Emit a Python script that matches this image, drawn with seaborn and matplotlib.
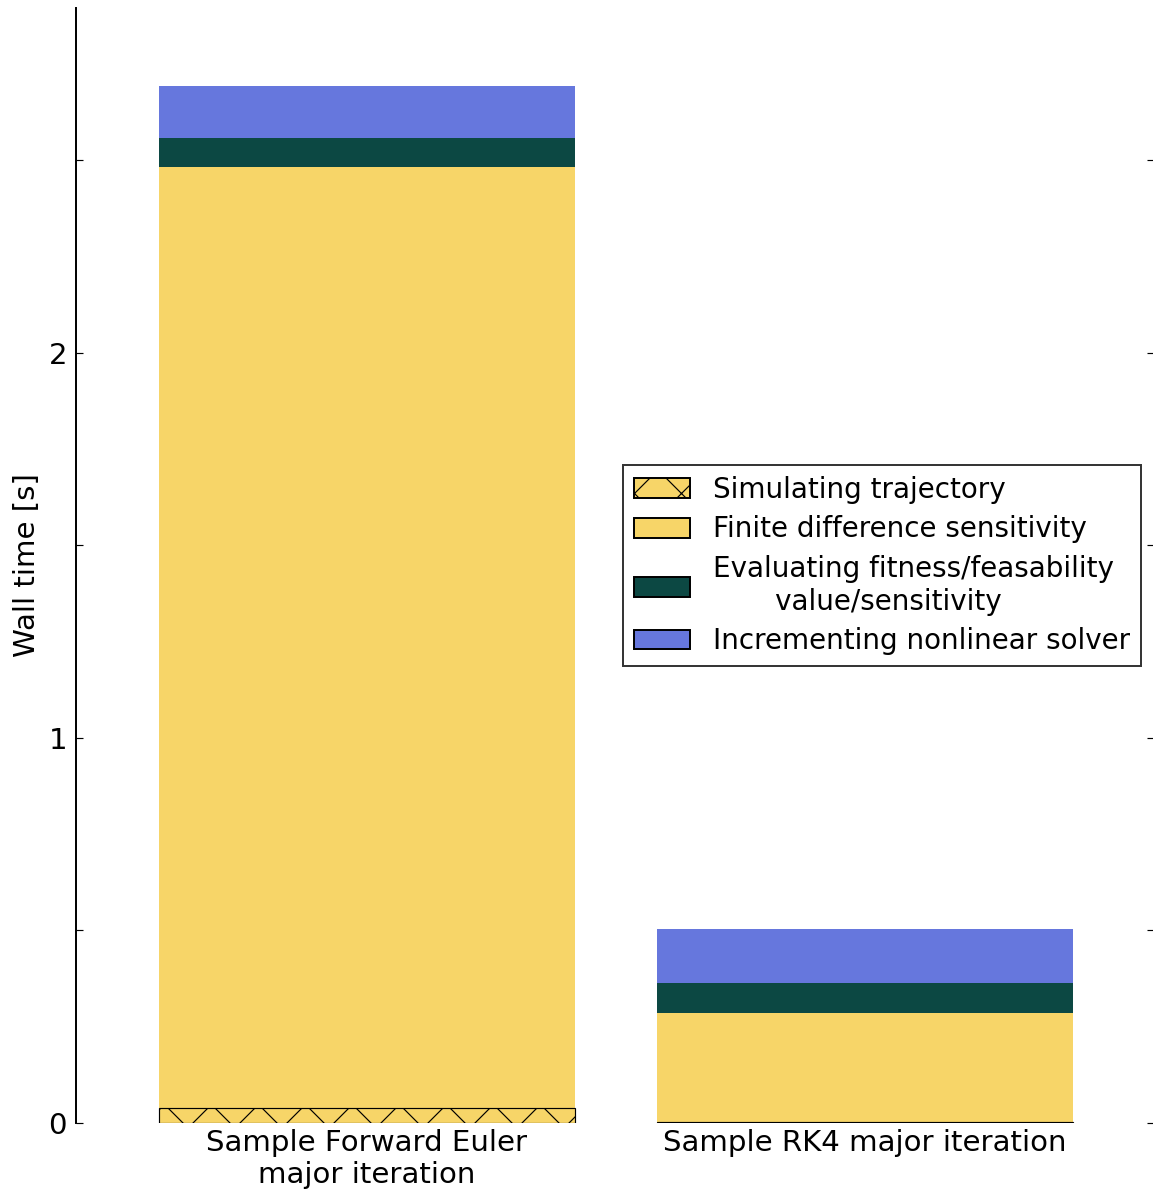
import matplotlib
matplotlib.use("Agg")
import matplotlib.pyplot as plt
from matplotlib.patches import Patch
from matplotlib.ticker import FixedLocator, FixedFormatter
import numpy as np
import pandas as pd
import seaborn as sns

# Wall-time breakdown of one major iteration, per integrator (seconds)
iterations = ["Sample Forward Euler\nmajor iteration", "Sample RK4 major iteration"]
simulating = [0.038, 0.003]
finite_diff = [2.445, 0.283]
evaluating = [0.075, 0.078]
incrementing = [0.135, 0.140]

stage_labels = [
    "Simulating trajectory",
    "Finite difference sensitivity",
    "Evaluating fitness/feasability\n       value/sensitivity",
    "Incrementing nonlinear solver",
]
stage_colors = ["#F7D568", "#F7D568", "#0C4843", "#6677DD"]

ytick_values = [0, 0.5, 1, 1.5, 2, 2.5]
ytick_labels = ["0", "", "1", "", "2", ""]

DPI = 282
sns.set_style("white")
plt.rcParams["font.family"] = ["DejaVu Sans"]
plt.rcParams["hatch.linewidth"] = 0.3
for key in ["text.color", "axes.labelcolor", "xtick.color", "ytick.color"]:
    plt.rcParams[key] = "black"

df = pd.DataFrame({"iteration": iterations,
                   "sim": simulating, "fd": finite_diff,
                   "ev": evaluating, "inc": incrementing})
df["top_sim"] = df["sim"]
df["top_fd"] = df["top_sim"] + df["fd"]
df["top_ev"] = df["top_fd"] + df["ev"]
df["top_inc"] = df["top_ev"] + df["inc"]

fig = plt.figure(figsize=(1154 / DPI, 1196 / DPI), dpi=DPI)
ax = fig.add_axes([76 / 1154, 73 / 1196, 1078 / 1154, 1115 / 1196])

bar_w = 0.835
# stacked bars: draw cumulative totals from the top segment down
for col, c in [("top_inc", stage_colors[3]), ("top_ev", stage_colors[2]),
               ("top_fd", stage_colors[1])]:
    sns.barplot(data=df, x="iteration", y=col, color=c, saturation=1,
                width=bar_w, linewidth=0, errorbar=None, ax=ax)
sns.barplot(data=df, x="iteration", y="top_sim", color=stage_colors[0],
            saturation=1, width=bar_w, edgecolor="black", linewidth=0.3,
            hatch="xx", errorbar=None, ax=ax)

ax.set_xlim(-0.584, 1.580)
ax.set_ylim(0, 2.896)
ax.yaxis.set_major_locator(FixedLocator(ytick_values))
ax.yaxis.set_major_formatter(FixedFormatter(ytick_labels))

fs = 7.47
for s in ["top", "right", "bottom"]:
    ax.spines[s].set_visible(False)
ax.spines["left"].set_linewidth(0.5)
ax.spines["left"].set_color("black")
ax.tick_params(axis="y", direction="in", left=True, right=True, length=1.8,
               width=0.3, labelsize=fs, pad=2.3, colors="black")
ax.tick_params(axis="x", length=0, labelsize=fs, pad=1.5, colors="black")
for t in ax.get_xticklabels():
    t.set_multialignment("center")
ax.set_xlabel("")
ax.set_ylabel("Wall time [s]", fontsize=fs, labelpad=2.0)

handles = [
    Patch(facecolor=stage_colors[0], edgecolor="black", linewidth=0.5, hatch="xx"),
    Patch(facecolor=stage_colors[1], edgecolor="black", linewidth=0.5),
    Patch(facecolor=stage_colors[2], edgecolor="black", linewidth=0.5),
    Patch(facecolor=stage_colors[3], edgecolor="black", linewidth=0.5),
]
lfs = 7.1
leg = ax.legend(handles, stage_labels, loc="center right",
                bbox_to_anchor=(0.988, 0.5), borderaxespad=0, fontsize=lfs,
                frameon=True, fancybox=False, handlelength=2.0,
                handleheight=0.72, handletextpad=0.83, labelspacing=0.42,
                borderpad=0.4)
leg.get_frame().set_edgecolor("black")
leg.get_frame().set_linewidth(0.5)

fig.savefig("out.png", dpi=DPI)
